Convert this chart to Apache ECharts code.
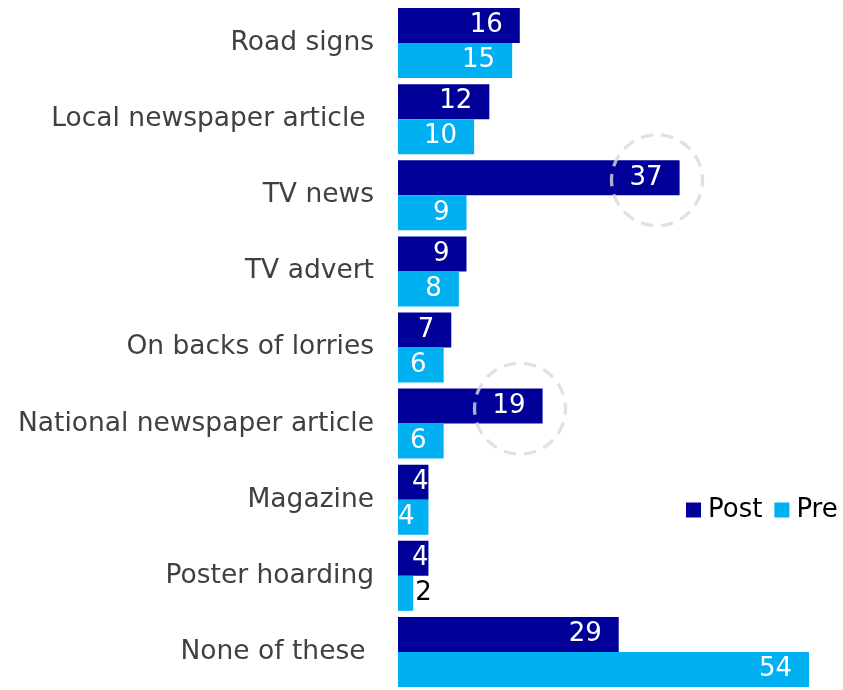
<!DOCTYPE html>
<html>
<head>
<meta charset="utf-8">
<style>
  html, body { margin: 0; padding: 0; background: #fff; }
  #chart { width: 843px; height: 690px; }
</style>
<script src="https://cdn.jsdelivr.net/npm/echarts@6/dist/echarts.min.js"></script>
</head>
<body>
<div id="chart"></div>
<script>
// Where respondents saw the campaign, before and after (percent)
const categories = [
  'Road signs',
  'Local newspaper article ',
  'TV news',
  'TV advert',
  'On backs of lorries',
  'National newspaper article',
  'Magazine',
  'Poster hoarding',
  'None of these '
];
const postValues = [16, 12, 37, 9, 7, 19, 4, 4, 29];
const preValues  = [15, 10, 9, 8, 6, 6, 4, 2, 54];
// Post results singled out with a dashed ring
const highlighted = ['TV news', 'National newspaper article'];

const POST = '#000099';
const PRE = '#00B0F0';
const FONT = '"DejaVu Sans", Verdana, sans-serif';

// Short bars: keep labels readable by shifting them to the bar's edges
function postItem(v) {
  const item = { value: v };
  if (v <= 4) item.label = { distance: 0 };
  return item;
}
function preItem(v) {
  const item = { value: v };
  if (v <= 2) {
    item.label = { position: 'right', distance: 2, color: '#000' };
  } else if (v <= 4) {
    item.label = { position: 'insideLeft', distance: 0 };
  }
  return item;
}

const ringData = highlighted.map(name => [postValues[categories.indexOf(name)], name]);

const chart = echarts.init(document.getElementById('chart'), null, { renderer: 'canvas' });
chart.setOption({
  animation: false,
  textStyle: { fontFamily: FONT },
  grid: { left: 398, right: 34, top: 5, bottom: -3, containLabel: false },
  legend: {
    data: ['Post', 'Pre'],
    orient: 'horizontal',
    left: 686,
    top: 497,
    width: 157,
    padding: 0,
    itemWidth: 15,
    itemHeight: 15,
    itemGap: 12,
    icon: 'rect',
    textStyle: { fontSize: 26, color: '#000', fontFamily: FONT, padding: [0, 0, 0, 2] }
  },
  xAxis: {
    type: 'value',
    min: 0,
    max: 54,
    show: false
  },
  yAxis: {
    type: 'category',
    data: categories,
    inverse: true,
    axisLine: { show: false },
    axisTick: { show: false },
    axisLabel: { fontSize: 26.5, color: '#404040', margin: 24, fontFamily: FONT }
  },
  series: [
    {
      name: 'Post',
      type: 'bar',
      barWidth: 35,
      barGap: '0%',
      itemStyle: { color: POST },
      label: {
        show: true, position: 'insideRight', distance: 17,
        color: '#fff', fontSize: 26, fontFamily: FONT
      },
      data: postValues.map(postItem)
    },
    {
      name: 'Pre',
      type: 'bar',
      barWidth: 35,
      barGap: '0%',
      itemStyle: { color: PRE },
      label: {
        show: true, position: 'insideRight', distance: 17,
        color: '#fff', fontSize: 26, fontFamily: FONT
      },
      data: preValues.map(preItem)
    },
    {
      name: 'ring',
      type: 'scatter',
      z: 5,
      silent: true,
      symbol: 'circle',
      symbolSize: 91,
      symbolOffset: [-22.6, -15],
      itemStyle: {
        color: 'rgba(0,0,0,0)',
        borderColor: '#d9d9d9',
        borderWidth: 3.3,
        borderType: [12.4, 8],
        borderDashOffset: 6.2
      },
      data: ringData
    }
  ]
});
</script>
</body>
</html>
